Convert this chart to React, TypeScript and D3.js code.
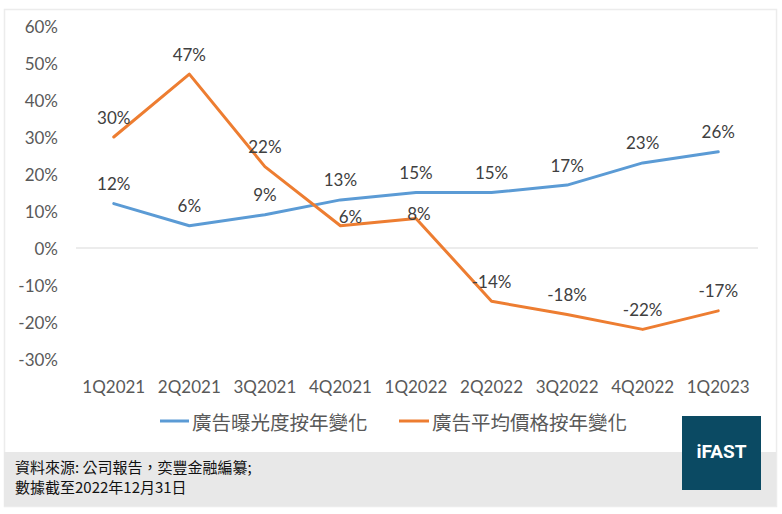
import React from "react";
import * as d3 from "d3";

const categories = ["1Q2021", "2Q2021", "3Q2021", "4Q2021", "1Q2022", "2Q2022", "3Q2022", "4Q2022", "1Q2023"];
const exposureYoY = [12, 6, 9, 13, 15, 15, 17, 23, 26];
const priceYoY = [30, 47, 22, 6, 8, -14.4, -18, -22, -17];
const yTicks = [60, 50, 40, 30, 20, 10, 0, -10, -20, -30];
const seriesNames = ["廣告曝光度按年變化", "廣告平均價格按年變化"];
const sourceLines = ["資料來源: 公司報告，奕豐金融編纂;", "數據截至2022年12月31日"];

const BLUE = "#5b9bd5";
const ORANGE = "#ed7d31";
const TEXT = "#595959";
const LATIN = "Lato, 'Open Sans', sans-serif";
const CJK = "'Noto Sans CJK TC', 'Noto Sans', sans-serif";

// label offsets (dx, dy) relative to each point
const blueLabelOffsets = categories.map(() => [0, -20]);
const orangeLabelOffsets = categories.map((_, i) => (i === 3 ? [10, -9] : i === 4 ? [3, -5] : [0, -20]));

export default function App() {
  const W = 782;
  const H = 514;
  const x = d3.scaleBand<string>().domain(categories).range([76, 756]).padding(0);
  const y = d3.scaleLinear().domain([-30, 60]).range([359, 26]);
  const cx = (i: number) => (x(categories[i]) as number) + x.bandwidth() / 2;

  const line = d3
    .line<number>()
    .x((_, i) => cx(i))
    .y((d) => y(d));

  const fmt = (v: number) => `${Math.round(v)}%`;

  const series = [
    { name: seriesNames[0], values: exposureYoY, color: BLUE, offsets: blueLabelOffsets },
    { name: seriesNames[1], values: priceYoY, color: ORANGE, offsets: orangeLabelOffsets },
  ];

  return (
    <svg width={W} height={H} style={{ position: "absolute", left: 0, top: 0, background: "#fff" }}>
      <rect x={4.5} y={9.5} width={772} height={497} fill="#fff" stroke="#ececec" strokeWidth={1.5} />
      {/* zero line */}
      <line x1={76} x2={758} y1={y(0)} y2={y(0)} stroke="#d9d9d9" strokeWidth={1} />
      {/* y ticks */}
      {yTicks.map((t) => (
        <text
          key={t}
          x={58}
          y={y(t)}
          textAnchor="end"
          dominantBaseline="central"
          fontFamily={LATIN}
          fontSize={17}
          fill={TEXT}
        >
          {`${t}%`}
        </text>
      ))}
      {/* x labels */}
      {categories.map((c, i) => (
        <text
          key={c}
          x={cx(i)}
          y={386.5}
          textAnchor="middle"
          dominantBaseline="central"
          fontFamily={LATIN}
          fontSize={17}
          fill={TEXT}
        >
          {c}
        </text>
      ))}
      {/* lines */}
      {series.map((s) => (
        <path
          key={s.name}
          d={line(s.values) || ""}
          fill="none"
          stroke={s.color}
          strokeWidth={3}
          strokeLinejoin="round"
          strokeLinecap="round"
        />
      ))}
      {/* data labels */}
      {series.map((s) =>
        s.values.map((v, i) => (
          <text
            key={`${s.name}-${i}`}
            x={cx(i) + s.offsets[i][0]}
            y={y(v) + s.offsets[i][1]}
            textAnchor="middle"
            dominantBaseline="central"
            fontFamily={LATIN}
            fontSize={17}
            fill="#404040"
          >
            {fmt(v)}
          </text>
        ))
      )}
      {/* legend */}
      <line x1={160} x2={189} y1={421} y2={421} stroke={BLUE} strokeWidth={3} />
      <text x={192} y={421} dominantBaseline="central" fontFamily={CJK} fontSize={19.5} fill={TEXT}>
        {seriesNames[0]}
      </text>
      <line x1={399} x2={429} y1={421} y2={421} stroke={ORANGE} strokeWidth={3} />
      <text x={432} y={421} dominantBaseline="central" fontFamily={CJK} fontSize={19.5} fill={TEXT}>
        {seriesNames[1]}
      </text>
      {/* footer band */}
      <rect x={4} y={452} width={772} height={54} fill="#e8e8e8" />
      {sourceLines.map((l, i) => (
        <text
          key={l}
          x={15}
          y={466 + i * 20}
          dominantBaseline="central"
          fontFamily={CJK}
          fontSize={15}
          fill="#111"
        >
          {l}
        </text>
      ))}
      {/* logo */}
      <rect x={682} y={416} width={79} height={74} fill="#0b4a63" />
      <text
        x={721.5}
        y={451}
        textAnchor="middle"
        dominantBaseline="central"
        fontFamily="Roboto, 'Liberation Sans', sans-serif"
        fontWeight={700}
        fontSize={19}
        fill="#fff"
      >
        iFAST
      </text>
    </svg>
  );
}
